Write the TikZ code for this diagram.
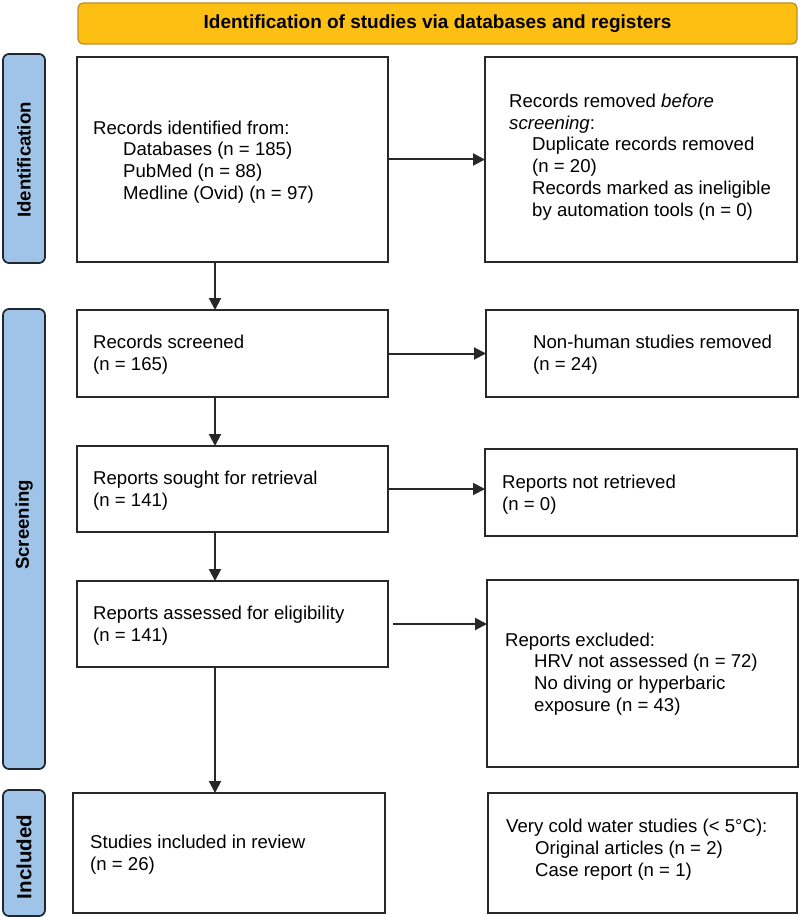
\documentclass[tikz,border=0pt]{standalone}
\usepackage{fontspec}
\setmainfont{Liberation Sans}
\usetikzlibrary{arrows.meta,calc}
\definecolor{hdr}{RGB}{253,191,18}
\definecolor{hdrline}{RGB}{185,145,45}
\definecolor{sidefill}{RGB}{160,196,231}
\definecolor{sideline}{RGB}{30,38,50}
\definecolor{boxline}{RGB}{40,40,40}
\begin{document}
\begin{tikzpicture}[x=1pt,y=-1pt,
  box/.style={draw=boxline, line width=1.8pt, fill=white, inner sep=0pt, outer sep=0pt},
  sidebar/.style={draw=sideline, line width=1.7pt, fill=sidefill, rounded corners=6pt, inner sep=0pt, outer sep=0pt},
  sidetxt/.style={rotate=90, inner sep=0pt, font=\bfseries\fontsize{18.6}{22}\selectfont},
  txt/.style={anchor=west, align=left, inner sep=0pt, font=\fontsize{18.6}{21.7}\selectfont},
  arr/.style={draw=boxline, line width=2pt, -{Triangle[length=12pt,width=12pt]}}]
\useasboundingbox (0,0) rectangle (800,917);
\fill[white] (0,0) rectangle (800,917);

% header
\node[draw=hdrline, line width=1.3pt, fill=hdr, rounded corners=5pt, minimum width=719pt, minimum height=41pt,
  font=\bfseries\fontsize{19}{22}\selectfont] (hdr) at (437.5,23.5) {Identification of studies via databases and registers};

% side bars
\node[sidebar, minimum width=42pt, minimum height=209pt] (sid) at (24,158.5) {};
\node[sidetxt] (sidt) at (24,160) {Identification};
\node[sidebar, minimum width=42pt, minimum height=460pt] (ssc) at (24,539) {};
\node[sidetxt] (ssct) at (24,525) {Screening};
\node[sidebar, minimum width=42pt, minimum height=126pt] (sin) at (24,853) {};
\node[sidetxt, font=\bfseries\fontsize{20.5}{24}\selectfont] (sint) at (24,857) {Included};

% left column
\node[box, minimum width=311pt, minimum height=205pt] (b1) at (232.5,159.5) {};
\node[txt] (b1t) at (93,162) {Records identified from:\\
  \hspace*{30pt}Databases (n = 185)\\
  \hspace*{30pt}PubMed (n = 88)\\
  \hspace*{30pt}Medline (Ovid) (n = 97)};

\node[box, minimum width=311pt, minimum height=87pt] (b2) at (232.5,353.5) {};
\node[txt] (b2t) at (93,355) {Records screened\\(n = 165)};

\node[box, minimum width=311pt, minimum height=86pt] (b3) at (232.5,489) {};
\node[txt] (b3t) at (93,491) {Reports sought for retrieval\\(n = 141)};

\node[box, minimum width=311pt, minimum height=86pt] (b4) at (232.5,624) {};
\node[txt] (b4t) at (93,626) {Reports assessed for eligibility\\(n = 141)};

\node[box, minimum width=312pt, minimum height=120pt] (b5) at (229,853) {};
\node[txt] (b5t) at (90,855) {Studies included in review\\(n = 26)};

% right column
\node[box, minimum width=312pt, minimum height=205pt] (r1) at (641,159.5) {};
\node[txt] (r1t) at (509,157) {Records removed \textit{before}\\
  \textit{screening}:\\
  \hspace*{23pt}Duplicate records removed\\
  \hspace*{23pt}(n = 20)\\
  \hspace*{23pt}Records marked as ineligible\\
  \hspace*{23pt}by automation tools (n = 0)};

\node[box, minimum width=312pt, minimum height=87pt] (r2) at (642,353.5) {};
\node[txt] (r2t) at (533,354.5) {Non-human studies removed\\(n = 24)};

\node[box, minimum width=312pt, minimum height=87pt] (r3) at (641,492.5) {};
\node[txt] (r3t) at (502,495) {Reports not retrieved\\(n = 0)};

\node[box, minimum width=311pt, minimum height=187pt] (r4) at (642.5,673.5) {};
\node[txt] (r4t) at (505,674) {Reports excluded:\\
  \hspace*{29pt}HRV not assessed (n = 72)\\
  \hspace*{29pt}No diving or hyperbaric\\
  \hspace*{29pt}exposure (n = 43)};

\node[box, minimum width=309pt, minimum height=120pt] (r5) at (642.5,853) {};
\node[txt] (r5t) at (506,849.5) {Very cold water studies (< 5°C):\\
  \hspace*{29pt}Original articles (n = 2)\\
  \hspace*{29pt}Case report (n = 1)};

% connectors
\coordinate (sp) at (215,0);
\draw[arr] (b1.east) -- (r1.west);
\draw[arr] (b2.east) -- (r2.west);
\draw[arr] (b3.east) -- (b3.east -| r3.west);
\draw[arr] ([xshift=5pt]b4.east) -- (b4.east -| r4.west);
\draw[arr] (b1.south -| sp) -- (b2.north -| sp);
\draw[arr] (b2.south -| sp) -- (b3.north -| sp);
\draw[arr] (b3.south -| sp) -- (b4.north -| sp);
\draw[arr] (b4.south -| sp) -- (b5.north -| sp);
\end{tikzpicture}
\end{document}
